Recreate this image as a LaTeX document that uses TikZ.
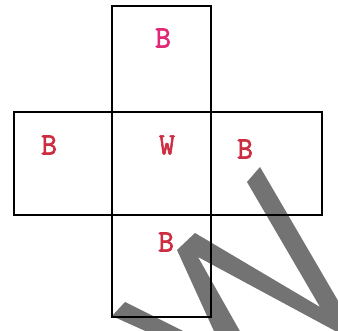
\documentclass[tikz,border=0pt]{standalone}
\usepackage{fontspec}
\newfontfamily\facefont[FakeBold=2]{Latin Modern Mono}
\definecolor{facered}{RGB}{205,45,65}
\definecolor{facepink}{RGB}{225,40,120}

\begin{document}
\begin{tikzpicture}[x=1pt, y=-1pt, every node/.style={font=\facefont\fontsize{31}{31}\selectfont, text=facered, inner sep=0pt}]
\useasboundingbox (0,0) rectangle (338,331);
\clip (0,0) rectangle (338,331);
% faces of the net
\draw[line width=1.6pt] (112,6) rectangle (211,112);
\draw[line width=1.6pt] (14,112) rectangle (322,215);
\draw[line width=1.6pt] (112,215) rectangle (211,317);
\draw[line width=1.6pt] (112,112) -- (112,215) (211,112) -- (211,215);
\draw[line width=2.6pt] (112,112) -- (211,112) (112,215) -- (211,215);
\node (top) at (163,38) [text=facepink] {B};
\node (left) at (49,145) {B};
\node (mid) at (167,145) {W};
\node (right) at (245,149) {B};
\node (bot) at (166,242) {B};
% watermark
\fill[black, opacity=0.55] (112,316) -- (125,302) -- (223,351) -- (177,250) -- (195,233)
  -- (320,307) -- (247,182) -- (260,167) -- (365,347) -- (198,257) -- (272,388) -- cycle;
\end{tikzpicture}
\end{document}
